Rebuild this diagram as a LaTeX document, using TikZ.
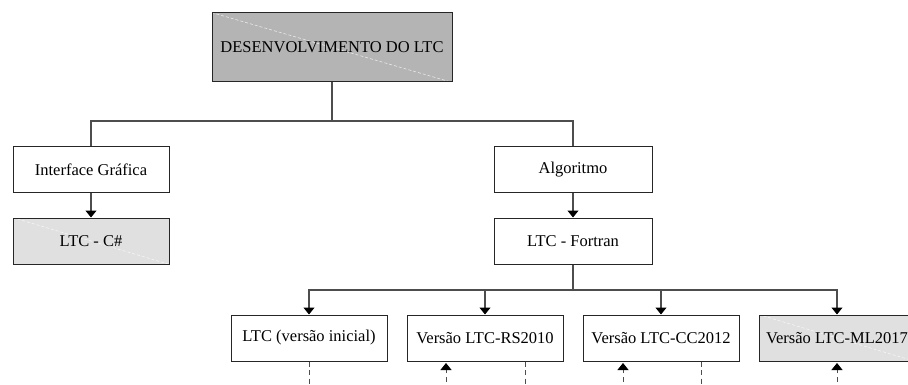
\documentclass[tikz,border=0pt]{standalone}
\usepackage{fontspec}
\setmainfont{Liberation Serif}
\usetikzlibrary{arrows.meta}
\definecolor{darkfill}{HTML}{B4B4B4}
\definecolor{lightfill}{HTML}{E0E0E0}
\definecolor{linegray}{HTML}{4D4D4D}
\tikzset{
  box/.style={draw=black!85, line width=1pt, minimum width=156pt, minimum height=46pt,
    inner sep=0pt, font=\fontsize{16.5}{18}\selectfont, text=black},
  tip/.style={-{Triangle[width=11pt,length=7pt,fill=black,color=black]}},
  conn/.style={draw=linegray, line width=1.1pt},
  arr/.style={conn, tip},
  dsh/.style={draw=linegray, line width=1pt, dash pattern=on 5pt off 3.5pt},
  shine/.style={draw=white, line width=0.6pt, dash pattern=on 3pt off 2pt, opacity=0.7}
}
\begin{document}
\begin{tikzpicture}[x=1pt,y=-1pt]
\useasboundingbox (0,0) rectangle (908,385);
\clip (0,0) rectangle (908,385);
\node[box, fill=darkfill, minimum width=240pt, minimum height=69pt] (top) at (332,47.5) {};
\draw[shine] (top.north west) -- (top.south east);
\node[box, minimum width=240pt, minimum height=69pt] at (332,47.5) {DESENVOLVIMENTO DO LTC};
\node[box] (ig) at (91,170) {Interface Gráfica};
\node[box, fill=lightfill] (cs) at (91,241) {};
\draw[shine] (cs.north west) -- (cs.south east);
\node[box] at (91,241) {LTC - C\#};
\node[box, minimum width=158pt] (alg) at (573,170) {Algoritmo};
\node[box, minimum width=158pt] (ft) at (573,241) {LTC - Fortran};
\node[box] (v1) at (309,338) {LTC (versão inicial)};
\node[box] (v2) at (485,338) {Versão LTC-RS2010};
\node[box] (v3) at (661,338) {Versão LTC-CC2012};
\node[box, fill=lightfill] (v4) at (837,338) {};
\draw[shine] (v4.north west) -- (v4.south east);
\node[box] at (837,338) {Versão LTC-ML2017};
% buses
\coordinate (b1) at (332,121);
\coordinate (b2) at (573,290);
\draw[conn] (top.south) -- (b1);
\draw[conn] (ig.north) |- (b1) -| (alg.north);
\draw[arr] (ig.south) -- (cs.north);
\draw[arr] (alg.south) -- (ft.north);
\draw[conn] (ft.south) -- (b2);
\draw[arr] (b2) -| (v1.north);
\draw[arr] (b2) -| (v2.north);
\draw[arr] (b2) -| (v3.north);
\draw[arr] (b2) -| (v4.north);
% dashed links leaving the picture
\coordinate (d1) at (309,390);
\coordinate (u2) at (446,390);
\coordinate (d2) at (525,390);
\coordinate (u3) at (623,390);
\coordinate (d3) at (701,390);
\coordinate (u4) at (837,390);
\draw[dsh] (v1.south) -- (d1);
\draw[dsh] (v2.south -| d2) -- (d2);
\draw[dsh] (v3.south -| d3) -- (d3);
\draw[dsh, tip, shorten >=1.5pt] (u2) -- (u2 |- v2.south);
\draw[dsh, tip, shorten >=1.5pt] (u3) -- (u3 |- v3.south);
\draw[dsh, tip, shorten >=1.5pt] (u4) -- (u4 |- v4.south);
\end{tikzpicture}
\end{document}
